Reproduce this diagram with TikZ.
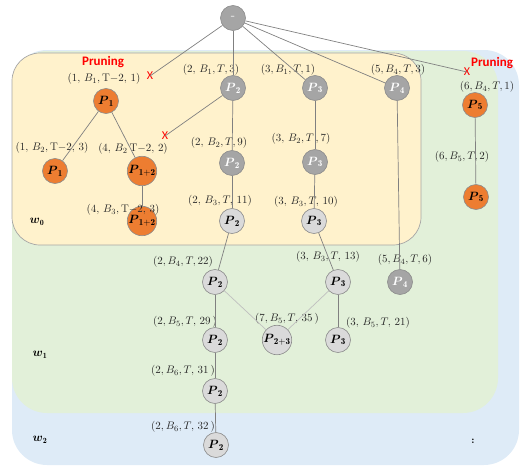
\documentclass[tikz,border=0pt]{standalone}
\usepackage{amsmath}
\usepackage{fontspec}
\newfontfamily\carl{Carlito}
\definecolor{orgc}{HTML}{ED7D31}
\definecolor{dkgc}{HTML}{A5A5A5}
\definecolor{ltgc}{HTML}{DADADA}
\definecolor{yelc}{HTML}{FFF2CC}
\definecolor{grnc}{HTML}{E2F0D9}
\definecolor{bluc}{HTML}{DEEBF7}
\newcommand\PN[1]{$\boldsymbol{P}_{\mathbf{#1}}$}
\tikzset{
 pn/.style={circle, minimum size=25pt, inner sep=0pt, draw=black!45, line width=0.6pt, font=\fontsize{13}{13}\selectfont},
 orn/.style={pn, fill=orgc, text=black},
 dkn/.style={pn, fill=dkgc, text=white},
 ltn/.style={pn, fill=ltgc, text=black},
 lbl/.style={font=\fontsize{11}{12}\selectfont, inner sep=0pt, text=black!85},
 edge/.style={draw=black!50, line width=0.7pt},
 ledge/.style={draw=black!25, line width=0.7pt},
 prune/.style={font=\carl\bfseries\fontsize{13}{13}\selectfont, text=red, inner sep=0pt},
 xmark/.style={font=\carl\fontsize{12}{12}\selectfont, text=red, inner sep=0pt},
 wl/.style={font=\fontsize{12}{12}\selectfont, inner sep=0pt},
}
\begin{document}
\begin{tikzpicture}[x=1pt,y=-1pt]
\useasboundingbox (0,0) rectangle (523,466);
% regions
\fill[bluc, rounded corners=35pt] (12,50) rectangle (519,465);
\fill[grnc, rounded corners=35pt] (12,51) rectangle (498,413);
\draw[fill=yelc, draw=black!35, line width=0.7pt, rounded corners=28pt] (12,53) rectangle (421,245);
% region labels
\node[wl] (w0) at (37,222) {$\boldsymbol{w}_{\mathbf{0}}$};
\node[wl] (w1) at (40,355) {$\boldsymbol{w}_{\mathbf{1}}$};
\node[wl] (w2) at (40,440) {$\boldsymbol{w}_{\mathbf{2}}$};
\node[font=\bfseries\fontsize{10}{10}\selectfont, inner sep=0pt] (dots) at (473,441) {:};
% nodes
\node[dkn] (root) at (233,18) {-};
\node[orn] (a1) at (106,101) {\PN{1}};
\node[dkn] (b1) at (233,88) {\PN{2}};
\node[dkn] (c1) at (315,88) {\PN{3}};
\node[dkn] (d1) at (397,88) {\PN{4}};
\node[orn] (e1) at (475,105) {\PN{5}};
\node[orn] (a2) at (55,171) {\PN{1}};
\node[orn] (f2) at (142,171) {\PN{1+2}};
\node[dkn] (b2) at (232,163) {\PN{2}};
\node[dkn] (c2) at (315,162) {\PN{3}};
\node[orn] (e2) at (476,197) {\PN{5}};
\node[orn] (f3) at (142,221) {\PN{1+2}};
\node[ltn] (b3) at (232,221) {\PN{2}};
\node[ltn] (c3) at (314,221) {\PN{3}};
\node[ltn] (b4) at (215,282) {\PN{2}};
\node[ltn] (c4) at (338,282) {\PN{3}};
\node[dkn] (d4) at (400,282) {\PN{4}};
\node[ltn] (b5) at (215,340) {\PN{2}};
\node[ltn] (g5) at (277,340) {\PN{2+3}};
\node[ltn] (c5) at (338,340) {\PN{3}};
\node[ltn] (b6) at (215,391) {\PN{2}};
\node[ltn] (b7) at (216,445) {\PN{2}};
% pruning marks
\node[xmark] (x1) at (150,76) {X};
\node[xmark] (x2) at (467,72) {X};
\node[xmark] (x3) at (165,136) {X};
\node[prune] (pr1) at (103,62) {Pruning};
\node[prune] (pr2) at (492,63) {Pruning};
% labels
\node[lbl] (l1) at (104,79) {$(1,\,B_1,\mathrm{T}{-}2,\,1)$};
\node[lbl] (l2) at (211,70) {$(2,\,B_1,T,3)$};
\node[lbl] (l3) at (288,70) {$(3,B_1,T,1)$};
\node[lbl] (l4) at (398,70) {$(5,B_4,T,3)$};
\node[lbl] (l5) at (487,87) {$(6,B_4,T,1)$};
\node[lbl] (l6) at (52,148) {$(1,\,B_2,\mathrm{T}{-}2,\,3)$};
\node[lbl] (l7) at (133,149) {$(4,\,B_2\,\mathrm{T}{-}2,\,2)$};
\node[lbl] (l8) at (219,143) {$(2,\,B_2,T,9)$};
\node[lbl] (l9) at (301,139) {$(3,\,B_2,T\,,7)$};
\node[lbl] (l10) at (462,157) {$(6,B_5,T,2)$};
\node[lbl] (l11) at (123,210) {$(4,\,B_3,\mathrm{T}{-}2,\,3)$};
\node[lbl] (l12) at (220,201) {$(2,\,B_3,T,\,11)$};
\node[lbl] (l13) at (306,202) {$(3,\,B_3,T,\,10)$};
\node[lbl] (l14) at (183,262) {$(2,B_4,T,22)$};
\node[lbl] (l15) at (328,257) {$(3,\,B_3,T,\,13)$};
\node[lbl] (l16) at (405,260) {$(5,B_4,T,6)$};
\node[lbl] (l17) at (185,322) {$(2,B_5,T,\,29\,)$};
\node[lbl] (l18) at (287,319) {$(7,B_5,T,\,35\,)$};
\node[lbl] (l19) at (378,323) {$(3,\,B_5,T,\,21)$};
\node[lbl] (l20) at (183,371) {$(2,B_6,T,\,31\,)$};
\node[lbl] (l21) at (183,427) {$(2,B_6,T,\,32\,)$};
% edges
\draw[edge] (root) -- (x1.center);
\draw[edge] (root) -- (b1);
\draw[edge] (root) -- (c1);
\draw[edge] (root) -- (d1);
\draw[edge] (root) -- (x2.center);
\draw[edge] (a1) -- (a2);
\draw[edge] (a1) -- (f2);
\draw[edge] (b1) -- (x3.center);
\draw[edge] (b1) -- (b2);
\draw[edge] (b2) -- (b3);
\draw[edge] (c1) -- (c2);
\draw[edge] (c2) -- (c3);
\draw[edge] (d1) -- (d4);
\draw[edge] (e1) -- (e2);
\draw[edge] (f2) -- (f3);
\draw[edge] (b3) -- (b4);
\draw[edge] (c3) -- (c4);
\draw[ledge] (b4) -- (g5);
\draw[ledge] (c4) -- (g5);
\draw[edge] (b4) -- (b5);
\draw[edge] (c4) -- (c5);
\draw[edge] (b5) -- (b6);
\draw[edge] (b6) -- (b7);
\end{tikzpicture}
\end{document}
